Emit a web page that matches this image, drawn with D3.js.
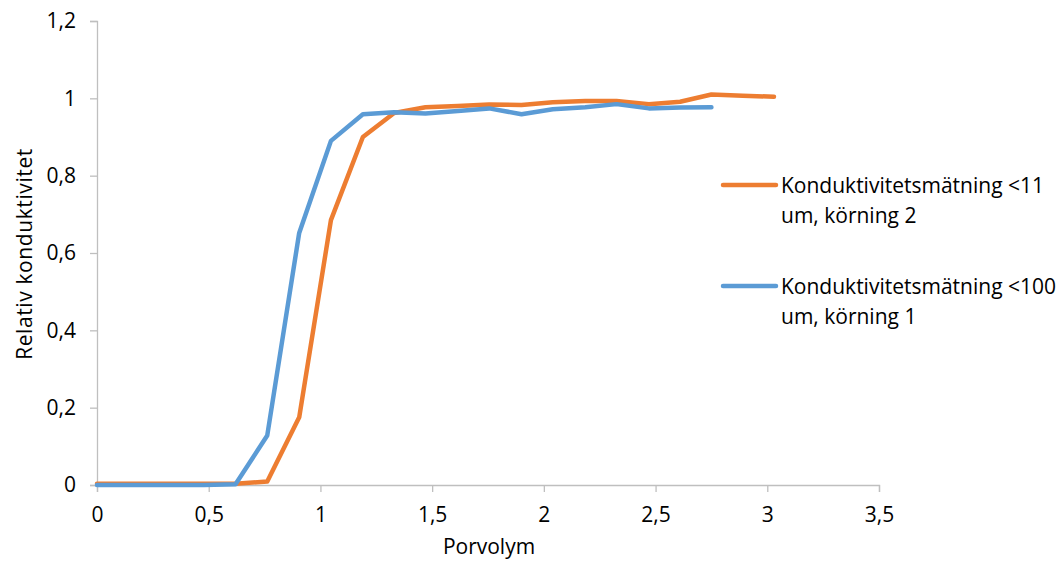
<!DOCTYPE html>
<html>
<head>
<meta charset="utf-8">
<script src="https://cdn.jsdelivr.net/npm/d3@7"></script>
<style>
  html, body { margin: 0; padding: 0; background: #fff; }
  svg { display: block; font-family: "Open Sans", "Noto Sans", sans-serif; }
</style>
</head>
<body>
<svg id="chart" width="1064" height="563"></svg>
<script>
// Pore volumes (shared x positions)
const porvolym = [0, 0.195, 0.337, 0.478, 0.62, 0.762, 0.905, 1.047, 1.19, 1.33, 1.47,
  1.615, 1.755, 1.9, 2.04, 2.185, 2.325, 2.47, 2.61, 2.75, 2.89, 3.03];

// Relative conductivity, run 2 (<11 um)
const korning2 = [0.003, 0.003, 0.003, 0.003, 0.003, 0.009, 0.175, 0.685, 0.900, 0.962, 0.977,
  0.980, 0.984, 0.983, 0.990, 0.993, 0.993, 0.985, 0.991, 1.010, 1.007, 1.004];

// Relative conductivity, run 1 (<100 um)
const korning1 = [0.000, 0.000, 0.000, 0.000, 0.002, 0.128, 0.652, 0.890, 0.959, 0.964, 0.961,
  0.967, 0.974, 0.959, 0.972, 0.977, 0.985, 0.974, 0.976, 0.977];

const seriesNames = [
  ["Konduktivitetsmätning <11", "um, körning 2"],
  ["Konduktivitetsmätning <100", "um, körning 1"]
];
const seriesColors = ["#ED7D31", "#5B9BD5"];

const xTicks = [0, 0.5, 1, 1.5, 2, 2.5, 3, 3.5];
const xTickLabels = ["0", "0,5", "1", "1,5", "2", "2,5", "3", "3,5"];
const yTicks = [0, 0.2, 0.4, 0.6, 0.8, 1, 1.2];
const yTickLabels = ["0", "0,2", "0,4", "0,6", "0,8", "1", "1,2"];

const xTitle = "Porvolym";
const yTitle = "Relativ konduktivitet";

const svg = d3.select("#chart");
const fontSize = 21;
const axisColor = "#BFBFBF";

const x = d3.scaleLinear().domain([0, 3.5]).range([97, 879]);
const y = d3.scaleLinear().domain([0, 1.2]).range([485, 21]);

// Y axis
const yAxis = d3.axisLeft(y)
  .tickValues(yTicks)
  .tickSize(7)
  .tickPadding(14)
  .tickFormat((d, i) => yTickLabels[i]);
const gy = svg.append("g").attr("transform", `translate(${x(0)},0)`).call(yAxis);
gy.select(".domain").attr("stroke", axisColor).attr("stroke-width", 1.3);
gy.selectAll(".tick line").attr("stroke", axisColor).attr("stroke-width", 1.3);
gy.selectAll(".tick text")
  .attr("font-size", fontSize).attr("fill", "#000")
  .attr("font-family", "'Open Sans', sans-serif");

// X axis
const xAxis = d3.axisBottom(x)
  .tickValues(xTicks)
  .tickSize(7)
  .tickPadding(15)
  .tickFormat((d, i) => xTickLabels[i]);
const gx = svg.append("g").attr("transform", `translate(0,${y(0)})`).call(xAxis);
gx.select(".domain").attr("stroke", axisColor).attr("stroke-width", 1.3);
gx.selectAll(".tick line").attr("stroke", axisColor).attr("stroke-width", 1.3);
gx.selectAll(".tick text")
  .attr("font-size", fontSize).attr("fill", "#000")
  .attr("font-family", "'Open Sans', sans-serif");

// Axis titles
svg.append("text")
  .attr("x", 489).attr("y", 554)
  .attr("text-anchor", "middle")
  .attr("font-size", fontSize)
  .text(xTitle);

svg.append("text")
  .attr("transform", "translate(32,254) rotate(-90)")
  .attr("text-anchor", "middle")
  .attr("font-size", fontSize)
  .attr("letter-spacing", 0.6)
  .text(yTitle);

// Lines
const line = d3.line()
  .x(d => x(d[0]))
  .y(d => y(d[1]));

const seriesData = [korning2, korning1].map(vals => vals.map((v, i) => [porvolym[i], v]));

svg.append("g").selectAll("path")
  .data(seriesData)
  .join("path")
  .attr("d", line)
  .attr("fill", "none")
  .attr("stroke", (d, i) => seriesColors[i])
  .attr("stroke-width", 4.5)
  .attr("stroke-linejoin", "round")
  .attr("stroke-linecap", "round");

// Legend
const legendY = [185, 286];
const legend = svg.append("g");
seriesNames.forEach((lines, i) => {
  const g = legend.append("g").attr("transform", `translate(0,${legendY[i]})`);
  g.append("line")
    .attr("x1", 723).attr("x2", 776)
    .attr("y1", 0).attr("y2", 0)
    .attr("stroke", seriesColors[i])
    .attr("stroke-width", 4.5)
    .attr("stroke-linecap", "round");
  lines.forEach((t, j) => {
    g.append("text")
      .attr("x", 781).attr("y", 8 + j * 30)
      .attr("font-size", fontSize)
      .attr("fill", "#000")
      .text(t);
  });
});
</script>
</body>
</html>
